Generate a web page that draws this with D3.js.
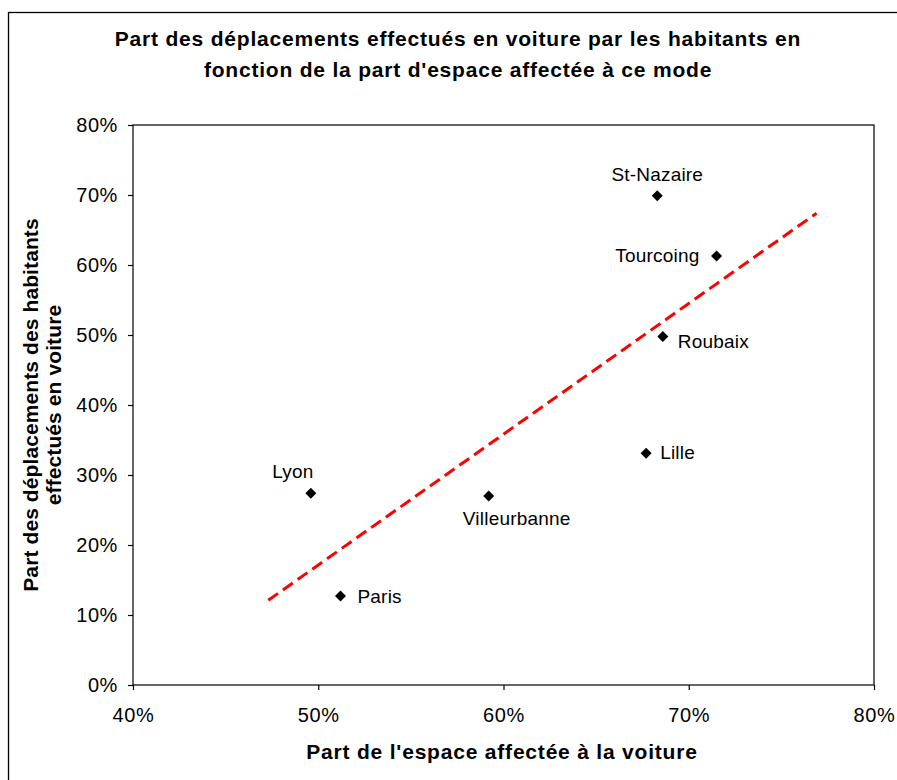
<!DOCTYPE html>
<html>
<head>
<meta charset="utf-8">
<script src="https://cdn.jsdelivr.net/npm/d3@7"></script>
<style>
  body { margin: 0; background: #fff; }
  svg { display: block; font-family: "Liberation Sans", Arial, sans-serif; }
</style>
</head>
<body>
<svg id="chart" width="897" height="780"></svg>
<script>
// villes et valeurs (en %)
var cities = ["St-Nazaire", "Tourcoing", "Roubaix", "Lille", "Villeurbanne", "Lyon", "Paris"];
var espaceVoiture = [68.3, 71.5, 68.6, 67.7, 59.2, 49.6, 51.2];
var deplacementsVoiture = [69.9, 61.3, 49.8, 33.1, 27.0, 27.4, 12.7];

// tendance (extrémités)
var trendX = [47.3, 76.9];
var trendY = [12.1, 67.4];

var xTicks = [40, 50, 60, 70, 80];
var yTicks = [0, 10, 20, 30, 40, 50, 60, 70, 80];

// décalage des étiquettes
var labelPos = {
  "St-Nazaire":   {dx: 0,   dy: -15, anchor: "middle"},
  "Tourcoing":    {dx: -17, dy: 6,   anchor: "end"},
  "Roubaix":      {dx: 15,  dy: 12,  anchor: "start"},
  "Lille":        {dx: 14,  dy: 6,   anchor: "start"},
  "Villeurbanne": {dx: 28,  dy: 29,  anchor: "middle"},
  "Lyon":         {dx: -18, dy: -15, anchor: "middle"},
  "Paris":        {dx: 17,  dy: 7,   anchor: "start"}
};

(function(d3) {
  var svg = d3.select("#chart");
  var margin = {top: 125, right: 23, bottom: 95, left: 133},
      width = 897 - margin.left - margin.right,
      height = 780 - margin.top - margin.bottom;

  // cadre extérieur
  svg.append("rect")
    .attr("x", 8.5).attr("y", 12.5)
    .attr("width", 920).attr("height", 800)
    .attr("fill", "none").attr("stroke", "#000").attr("stroke-width", 1.3);

  var g = svg.append("g").attr("transform", "translate(" + margin.left + "," + margin.top + ")");

  var x = d3.scaleLinear().domain([40, 80]).range([0, width]),
      y = d3.scaleLinear().domain([0, 80]).range([height, 0]);

  var pct = function(d) { return d + "%"; };

  g.append("g")
    .attr("transform", "translate(0," + height + ")")
    .call(d3.axisBottom(x).tickValues(xTicks).tickFormat(pct).tickSize(5).tickPadding(18))
    .call(function(a) {
      a.select(".domain").remove();
      a.selectAll("line").attr("stroke", "#000").attr("stroke-width", 1.2);
      a.selectAll("text").attr("font-size", 20).attr("letter-spacing", 0.6).attr("fill", "#000")
        .attr("font-family", "'Liberation Sans', Arial, sans-serif");
    });

  g.append("g")
    .call(d3.axisLeft(y).tickValues(yTicks).tickFormat(pct).tickSize(5).tickPadding(10))
    .call(function(a) {
      a.select(".domain").remove();
      a.selectAll("line").attr("stroke", "#000").attr("stroke-width", 1.2);
      a.selectAll("text").attr("font-size", 20).attr("letter-spacing", 0.6).attr("fill", "#000")
        .attr("font-family", "'Liberation Sans', Arial, sans-serif");
    });

  // zone de tracé
  g.append("rect")
    .attr("x", 0).attr("y", 0)
    .attr("width", width).attr("height", height)
    .attr("fill", "none").attr("stroke", "#000").attr("stroke-width", 1.2);

  // courbe de tendance
  var trend = trendX.map(function(v, i) { return {x: v, y: trendY[i]}; });
  g.append("path")
    .datum(trend)
    .attr("d", d3.line().x(function(d) { return x(d.x); }).y(function(d) { return y(d.y); }))
    .attr("fill", "none")
    .attr("stroke", "#ff0000")
    .attr("stroke-width", 3)
    .attr("stroke-dasharray", "12,6");

  var pts = cities.map(function(c, i) {
    return {name: c, x: espaceVoiture[i], y: deplacementsVoiture[i]};
  });

  var pt = g.selectAll(".pt")
    .data(pts)
    .enter().append("g")
    .attr("class", "pt")
    .attr("transform", function(d) { return "translate(" + x(d.x) + "," + y(d.y) + ")"; });

  pt.append("path")
    .attr("d", "M0,-5.5L5.5,0L0,5.5L-5.5,0Z")
    .attr("fill", "#000");

  pt.append("text")
    .attr("x", function(d) { return labelPos[d.name].dx; })
    .attr("y", function(d) { return labelPos[d.name].dy; })
    .attr("text-anchor", function(d) { return labelPos[d.name].anchor; })
    .attr("font-size", 19)
    .attr("letter-spacing", 0.2)
    .attr("fill", "#000")
    .text(function(d) { return d.name; });

  // titres
  var title = svg.append("text")
    .attr("text-anchor", "middle")
    .attr("font-size", 21)
    .attr("letter-spacing", 0.8)
    .attr("font-weight", "bold");
  title.append("tspan").attr("x", 458).attr("y", 46)
    .text("Part des déplacements effectués en voiture par les habitants en");
  title.append("tspan").attr("x", 458).attr("y", 77)
    .text("fonction de la part d'espace affectée à ce mode");

  svg.append("text")
    .attr("x", 502).attr("y", 759)
    .attr("text-anchor", "middle")
    .attr("font-size", 21)
    .attr("letter-spacing", 0.8)
    .attr("font-weight", "bold")
    .text("Part de l'espace affectée à la voiture");

  var yt = svg.append("text")
    .attr("transform", "translate(0," + (margin.top + height / 2) + ") rotate(-90)")
    .attr("text-anchor", "middle")
    .attr("font-size", 21)
    .attr("letter-spacing", 0.1)
    .attr("font-weight", "bold");
  yt.append("tspan").attr("x", 0).attr("y", 38).text("Part des déplacements des habitants");
  yt.append("tspan").attr("x", 0).attr("y", 61).text("effectués en voiture");
})(window.d3);
</script>
</body>
</html>
